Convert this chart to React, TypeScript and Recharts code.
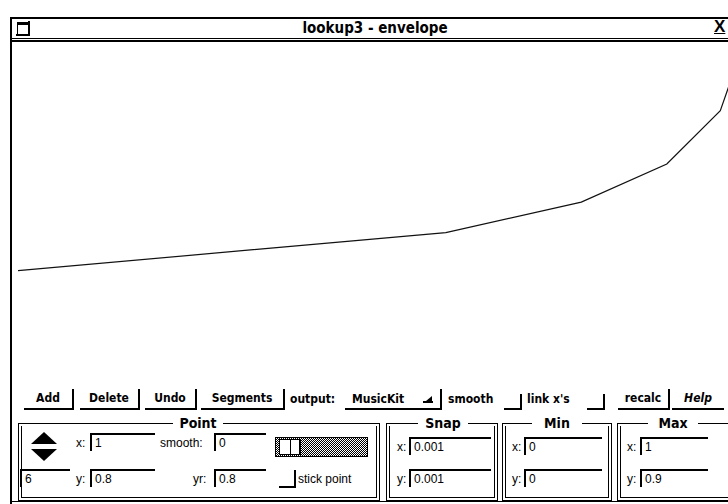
import React from 'react';
import { LineChart, Line, XAxis, YAxis } from 'recharts';

// envelope breakpoints (x 0..1, y 0..0.9)
const envX = [0, 0.6, 0.79, 0.91, 0.985, 1];
const envY = [0.3, 0.4, 0.48, 0.58, 0.72, 0.8];
const xMin = 0;
const xMax = 1;
const yMin = 0;
const yMax = 0.9;

const data = envX.map((x, i) => ({ x, y: envY[i] }));

const boldFont = '"DejaVu Sans Condensed", "Liberation Sans Narrow", "Liberation Sans", sans-serif';
const plainFont = '"Liberation Sans", Arial, sans-serif';

const abs = (x: number, y: number, w?: number, h?: number): React.CSSProperties => ({
  position: 'absolute',
  left: x,
  top: y,
  width: w,
  height: h,
});

const Btn = ({ x, w, label, italic }: { x: number; w: number; label: string; italic?: boolean }) => (
  <div
    style={{
      ...abs(x, 389, w, 19),
      borderBottom: '2px solid #000',
      borderRight: italic ? 'none' : '2px solid #000',
      fontFamily: boldFont,
      fontWeight: 'bold',
      fontStyle: italic ? 'italic' : 'normal',
      fontSize: 12,
      textAlign: 'center',
      lineHeight: '18px',
    }}
  >
    {label}
  </div>
);

const Check = ({ x }: { x: number }) => (
  <div style={{ ...abs(x, 394, 16, 14), borderBottom: '2px solid #000', borderRight: '2px solid #000' }} />
);

const Label = ({ x, y, text, bold }: { x: number; y: number; text: string; bold?: boolean }) => (
  <div
    style={{
      ...abs(x, y),
      fontFamily: bold ? boldFont : plainFont,
      fontWeight: bold ? 'bold' : 'normal',
      fontSize: 12,
      lineHeight: '14px',
      whiteSpace: 'nowrap',
    }}
  >
    {text}
  </div>
);

const Field = ({ x, y, w, value }: { x: number; y: number; w: number; value: string }) => (
  <div
    style={{
      ...abs(x, y, w, 18),
      borderTop: '2px solid #000',
      borderLeft: '2px solid #000',
      fontFamily: plainFont,
      fontSize: 12,
      lineHeight: '17px',
      paddingLeft: 3,
      boxSizing: 'border-box',
    }}
  >
    {value}
  </div>
);

const Group = ({ x, w, title, tx }: { x: number; w: number; title: string; tx: number }) => (
  <>
    <div style={{ ...abs(x, 423, w, 78), border: '1px solid #000', boxSizing: 'border-box' }} />
    <div style={{ ...abs(x + 3, 426, w - 6, 72), border: '1px solid #000', borderTop: 'none', boxSizing: 'border-box' }} />
    <div
      style={{
        ...abs(tx - 25, 415, 50, 16),
        background: '#fff',
        textAlign: 'center',
        fontFamily: boldFont,
        fontWeight: 'bold',
        fontSize: 14,
        lineHeight: '16px',
      }}
    >
      {title}
    </div>
  </>
);

const App: React.FC = () => (
  <div
    style={{
      position: 'fixed',
      top: 0,
      left: 0,
      width: 728,
      height: 504,
      overflow: 'hidden',
      background: '#fff',
    }}
  >
    {/* window frame + title bar */}
    <div style={{ ...abs(10, 17, 730, 2), background: '#000' }} />
    <div style={{ ...abs(10, 17, 2, 490), background: '#000' }} />
    <div style={{ ...abs(10, 38, 730, 1), background: '#000' }} />
    <div style={{ ...abs(10, 40, 730, 2), background: '#000' }} />
    <div style={{ ...abs(17, 22, 10, 10), border: '1px solid #000', borderTopWidth: 3 }} />
    <div style={{ ...abs(16, 34, 14, 2), background: '#000' }} />
    <div style={{ ...abs(28, 21, 2, 14), background: '#000' }} />
    <div
      style={{
        ...abs(240, 19, 270, 19),
        textAlign: 'center',
        fontFamily: boldFont,
        fontWeight: 'bold',
        fontSize: 15,
        lineHeight: '19px',
      }}
    >
      lookup3 - envelope
    </div>
    <div
      style={{
        ...abs(714, 18, 16, 18),
        fontFamily: plainFont,
        fontWeight: 'bold',
        fontSize: 17,
        lineHeight: '18px',
        textDecoration: 'underline',
      }}
    >
      X
    </div>

    {/* envelope plot */}
    <div style={abs(18, 42, 713, 343)}>
      <LineChart width={713} height={343} data={data} margin={{ top: 0, right: 0, bottom: 0, left: 0 }}>
        <XAxis dataKey="x" type="number" domain={[xMin, xMax]} hide />
        <YAxis type="number" domain={[yMin, yMax]} hide />
        <Line
          type="linear"
          dataKey="y"
          stroke="#111"
          strokeWidth={1.2}
          dot={false}
          isAnimationActive={false}
        />
      </LineChart>
    </div>

    {/* button row */}
    <Btn x={24} w={48} label="Add" />
    <Btn x={80} w={58} label="Delete" />
    <Btn x={145} w={50} label="Undo" />
    <Btn x={201} w={82} label="Segments" />
    <Label x={290} y={392} text="output:" bold />
    <div style={{ ...abs(345, 389, 95, 19), borderBottom: '2px solid #000', borderRight: '2px solid #000' }} />
    <Label x={352} y={392} text="MusicKit" bold />
    <div style={{ ...abs(423, 401, 10, 2), background: '#000' }} />
    <div
      style={{
        ...abs(426, 396, 0, 0),
        borderLeft: '6px solid transparent',
        borderBottom: '5px solid #000',
      }}
    />
    <Label x={448} y={392} text="smooth" bold />
    <Check x={504} />
    <Label x={527} y={392} text="link x's" bold />
    <Check x={587} />
    <Btn x={618} w={50} label="recalc" />
    <Btn x={672} w={52} label="Help" italic />

    {/* Point group */}
    <Group x={18} w={362} title="Point" tx={198} />
    <div
      style={{
        ...abs(31, 432, 0, 0),
        borderLeft: '13px solid transparent',
        borderRight: '13px solid transparent',
        borderBottom: '12px solid #000',
      }}
    />
    <div
      style={{
        ...abs(31, 449, 0, 0),
        borderLeft: '13px solid transparent',
        borderRight: '13px solid transparent',
        borderTop: '12px solid #000',
      }}
    />
    <Label x={76} y={436} text="x:" />
    <Field x={90} y={433} w={65} value="1" />
    <Label x={160} y={436} text="smooth:" />
    <Field x={214} y={433} w={52} value="0" />
    <div
      style={{
        ...abs(275, 437, 93, 20),
        border: '1px solid #000',
        boxSizing: 'border-box',
        background: 'repeating-conic-gradient(#000 0 25%, #fff 0 50%) 0 0/2px 2px',
      }}
    />
    <div style={{ ...abs(279, 439, 22, 16), background: '#fff', border: '1px solid #000', boxSizing: 'border-box' }} />
    <div style={{ ...abs(290, 440, 1, 14), background: '#000' }} />
    <div style={{ ...abs(299, 439, 2, 16), background: '#000' }} />
    <Field x={20} y={469} w={50} value="6" />
    <Label x={76} y={472} text="y:" />
    <Field x={90} y={469} w={65} value="0.8" />
    <Label x={193} y={472} text="yr:" />
    <Field x={214} y={469} w={52} value="0.8" />
    <div style={{ ...abs(279, 470, 15, 16), borderBottom: '2px solid #000', borderRight: '2px solid #000' }} />
    <Label x={298} y={472} text="stick point" />

    {/* Snap / Min / Max groups */}
    <Group x={386} w={112} title="Snap" tx={443} />
    <Label x={397} y={440} text="x:" />
    <Field x={409} y={437} w={82} value="0.001" />
    <Label x={397} y={472} text="y:" />
    <Field x={409} y={469} w={82} value="0.001" />

    <Group x={502} w={110} title="Min" tx={557} />
    <Label x={512} y={440} text="x:" />
    <Field x={524} y={437} w={78} value="0" />
    <Label x={512} y={472} text="y:" />
    <Field x={524} y={469} w={78} value="0" />

    <Group x={617} w={120} title="Max" tx={673} />
    <Label x={627} y={440} text="x:" />
    <Field x={640} y={437} w={68} value="1" />
    <Label x={627} y={472} text="y:" />
    <Field x={640} y={469} w={68} value="0.9" />

    <div style={{ ...abs(12, 501, 720, 1), background: '#000' }} />
  </div>
);

export default App;
